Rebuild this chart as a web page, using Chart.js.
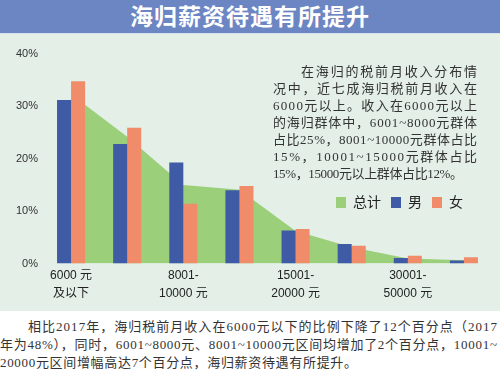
<!DOCTYPE html>
<html>
<head>
<meta charset="utf-8">
<script src="https://cdn.jsdelivr.net/npm/chart.js"></script>
<style>
  body { margin: 0; width: 500px; height: 374px; background: #fff; position: relative; overflow: hidden;
         font-family: "Liberation Sans", "Noto Sans CJK SC", sans-serif; }
  #title { position: absolute; left: 0; top: 0; width: 500px; height: 33px; background: #6c86c3;
           color: #fff; font-weight: bold; font-size: 23px; line-height: 34px; text-align: center;
           letter-spacing: 1px; border-bottom: 1px solid #d6e0ef; }
  #panel { position: absolute; left: 0; top: 34px; width: 500px; height: 277px; background: #e3efe7; }
  #note { position: absolute; left: 273px; top: 63px; width: 210px; font-size: 13px; line-height: 17px;
          color: #333; font-family: "Liberation Serif", "Noto Sans CJK SC", serif; }
  #note div, #foot div { white-space: nowrap; }
  #note span, #foot span { display: inline-block; }
  #legend { position: absolute; left: 336px; top: 195px; font-size: 14px; color: #222; line-height: 14px; }
  #legend span.box { display: inline-block; width: 10px; height: 11px; vertical-align: -1px; margin-right: 7px; }
  #legend span.lab { margin-right: 10px; }
  #foot { position: absolute; left: 0; top: 318px; width: 500px; font-size: 13px; line-height: 18px; color: #333;
          font-family: "Liberation Serif", "Noto Sans CJK SC", serif; }
</style>
</head>
<body>
<div id="title">海归薪资待遇有所提升</div>
<div id="panel"><canvas id="myChart"></canvas></div>
<div id="note">
  <div style="padding-left:28px"><span>在海归的税前月收入分布情</span></div>
  <div><span>况中，近七成海归税前月收入在</span></div>
  <div><span>6000元以上。收入在6000元以上</span></div>
  <div><span>的海归群体中，6001~8000元群体</span></div>
  <div><span>占比25%，8001~10000元群体占比</span></div>
  <div><span>15%，10001~15000元群体占比</span></div>
  <div><span class="last">15%，15000元以上群体占比12%。</span></div>
</div>
<div id="legend">
  <span class="box" style="background:#9bcf7a"></span><span class="lab">总计</span><span class="box" style="background:#3f5ba6"></span><span class="lab">男</span><span class="box" style="background:#f08c6a"></span><span class="lab">女</span>
</div>
<div id="foot">
  <div style="padding-left:28px"><span>相比2017年，海归税前月收入在6000元以下的比例下降了12个百分点（2017</span></div>
  <div><span>年为48%），同时，6001~8000元、8001~10000元区间均增加了2个百分点，10001~</span></div>
  <div><span class="last">20000元区间增幅高达7个百分点，海归薪资待遇有所提升。</span></div>
</div>
<script>
// income brackets
var categories = ['6000元及以下', '6001-8000元', '8001-10000元', '10001-15000元',
                  '15001-20000元', '20001-30000元', '30001-50000元', '50000元以上'];
// only every other bracket gets a label on the axis
var tickLabels = [['6000 元', '及以下'], '', ['8001-', '10000 元'], '', ['15001-', '20000 元'], '',
                  ['30001-', '50000 元'], ''];
var totalValues = [32.3, 24.2, 15.0, 14.1, 6.2, 3.1, 0.95, 0.6];
var maleValues = [31.2, 22.8, 19.3, 14.0, 6.3, 3.7, 1.05, 0.55];
var femaleValues = [34.8, 25.9, 11.4, 14.8, 6.6, 3.4, 1.5, 1.2];
var yTicks = [0, 10, 20, 30, 40];

// spread each text line over its width, like the printed block
function spread(boxId, rightEdge, lastEdge) {
  var spans = document.querySelectorAll('#' + boxId + ' span');
  spans.forEach(function(s) {
    var left = s.getBoundingClientRect().left;
    var w = s.getBoundingClientRect().width;
    var n = Array.from(s.textContent).length;
    var target = (s.classList.contains('last') ? lastEdge : rightEdge) - left;
    s.style.letterSpacing = ((target - w) / (n - 1)) + 'px';
  });
}
spread('note', 477, 463);
spread('foot', 497, 357);

var ctx = document.getElementById('myChart').getContext('2d');
new Chart(ctx, {
  type: 'bar',
  data: {
    labels: categories,
    datasets: [{
      type: 'line',
      label: '总计',
      data: totalValues,
      fill: 'origin',
      backgroundColor: '#9bcf7a',
      borderWidth: 0,
      pointRadius: 0,
      tension: 0,
      order: 2
    }, {
      label: '男',
      data: maleValues,
      backgroundColor: '#3f5ba6',
      categoryPercentage: 0.5,
      barPercentage: 1.0,
      order: 1
    }, {
      label: '女',
      data: femaleValues,
      backgroundColor: '#f08c6a',
      categoryPercentage: 0.5,
      barPercentage: 1.0,
      order: 1
    }]
  },
  options: {
    responsive: true,
    maintainAspectRatio: false,
    animation: false,
    layout: { padding: { top: 20, right: 8, left: 0, bottom: 0 } },
    plugins: { legend: { display: false }, tooltip: { enabled: false } },
    scales: {
      x: {
        grid: { display: false, drawTicks: false },
        border: { display: false },
        afterFit: function(scale) { scale.height = 47.5; },
        ticks: {
          autoSkip: false,
          maxRotation: 0,
          padding: 3,
          color: '#222',
          font: { size: 12, family: '"Liberation Sans", "Noto Sans CJK SC"', lineHeight: 1.5 },
          callback: function(v, i) { return tickLabels[i]; }
        }
      },
      y: {
        min: yTicks[0],
        max: yTicks[yTicks.length - 1],
        grid: { display: false, drawTicks: false },
        border: { display: false },
        afterFit: function(scale) { scale.width = 43; },
        afterBuildTicks: function(scale) { scale.ticks = yTicks.map(function(v) { return { value: v }; }); },
        ticks: {
          padding: 5,
          color: '#333',
          font: { size: 11, family: '"Liberation Sans"' },
          callback: function(v) { return v + '%'; }
        }
      }
    }
  }
});
</script>
</body>
</html>
